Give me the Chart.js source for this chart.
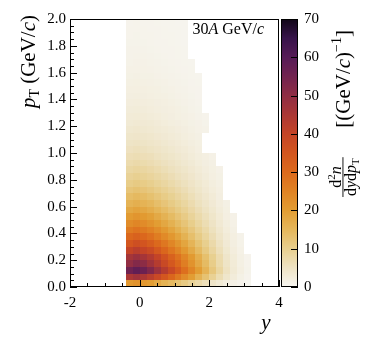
<!DOCTYPE html>
<html>
<head>
<meta charset="utf-8">
<script src="https://cdn.jsdelivr.net/npm/chart.js@4.4.1/dist/chart.umd.min.js"></script>
<style>
  html, body { margin: 0; padding: 0; background: #fff; }
  #wrap { position: relative; width: 374px; height: 349px; }
  canvas { position: absolute; top: 0; }
</style>
</head>
<body>
<div id="wrap">
  <canvas id="main" width="374" height="349" style="left:0"></canvas>
  <canvas id="cbar" width="93" height="349" style="left:281px"></canvas>
</div>
<script>
// bin edges (rapidity y and transverse momentum pT)
const rapidityEdges = [-0.4, -0.2, 0.0, 0.2, 0.4, 0.6, 0.8, 1.0, 1.2, 1.4, 1.6, 1.8, 2.0, 2.2, 2.4, 2.6, 2.8, 3.0, 3.2];
const ptEdges = [0.00, 0.05, 0.10, 0.15, 0.20, 0.25, 0.30, 0.35, 0.40, 0.45,
                 0.50, 0.55, 0.60, 0.65, 0.70, 0.75, 0.80, 0.85, 0.90, 0.95,
                 1.00, 1.05, 1.10, 1.15, 1.20, 1.25, 1.30, 1.35, 1.40, 1.45,
                 1.50, 1.55, 1.60, 1.65, 1.70, 1.75, 1.80, 1.85, 1.90, 1.95, 2.00];

// d2n/dydpT, one row per pT bin (bottom to top), one value per rapidity bin
const dndydpt = [
  [21, 22, 21, 20, 18, 16, 14.5, 12.8, 11, 9.2, 7.5, 5.9, 4.4, 3.1, 2, 1.2, 0.7, 0.3],
  [45, 47, 45, 42, 38.5, 35, 31, 27, 23.5, 20, 16, 12.7, 9.4, 6.6, 4.2, 2.6, 1.4, 0.7],
  [55.5, 58, 56, 52.5, 47.5, 43, 38.5, 34, 29, 24.5, 20, 15.7, 11.7, 8.2, 5.3, 3.2, 1.8, 0.9],
  [49.5, 52, 50.5, 47, 43, 38.7, 34.5, 30.4, 26, 22, 17.8, 14.2, 10.5, 7.3, 4.8, 2.9, 1.6, 0.8],
  [46, 48, 46, 43.5, 40, 36, 32, 28.4, 24.5, 20.6, 16.7, 13.2, 9.8, 6.9, 4.4, 2.7, 1.5, 0.7],
  [40, 42, 40, 38, 34.4, 31, 27.7, 24.4, 21, 17.6, 14.3, 11.3, 8.4, 5.9, 3.8, 2.3, 1.3],
  [35, 37, 35.5, 33.3, 30.3, 27.4, 24.4, 21.5, 18.5, 15.5, 12.6, 10, 7.4, 5.2, 3.3, 2, 1.1],
  [30.4, 32, 30.7, 28.8, 26.2, 23.7, 21.1, 18.6, 16, 13.4, 10.9, 8.6, 6.4, 4.5, 2.9, 1.8, 1],
  [26.6, 28, 26.9, 25.2, 23, 20.7, 18.5, 16.2, 14, 11.8, 9.5, 7.6, 5.6, 3.9, 2.5, 1.5],
  [23.3, 24.5, 23.5, 22, 20, 18.1, 16.2, 14.2, 12.3, 10.3, 8.3, 6.6, 4.9, 3.4, 2.2, 1.3],
  [20.4, 21.5, 20.6, 19.4, 17.6, 15.9, 14.2, 12.5, 10.8, 9, 7.3, 5.8, 4.3, 3, 1.9, 1.2],
  [17.9, 18.8, 18, 16.9, 15.4, 13.9, 12.4, 10.9, 9.4, 7.9, 6.4, 5.1, 3.8, 2.6, 1.7],
  [15.7, 16.5, 15.8, 14.9, 13.5, 12.2, 10.9, 9.6, 8.3, 6.9, 5.6, 4.5, 3.3, 2.3, 1.5],
  [13.8, 14.5, 13.9, 13, 11.9, 10.7, 9.6, 8.4, 7.3, 6.1, 4.9, 3.9, 2.9, 2],
  [12.1, 12.7, 12.2, 11.4, 10.4, 9.4, 8.4, 7.4, 6.4, 5.3, 4.3, 3.4, 2.5, 1.8],
  [10.5, 11.1, 10.7, 10, 9.1, 8.2, 7.3, 6.4, 5.6, 4.7, 3.8, 3, 2.2, 1.6],
  [9.2, 9.7, 9.3, 8.7, 8, 7.2, 6.4, 5.6, 4.9, 4.1, 3.3, 2.6, 1.9, 1.4],
  [8.1, 8.5, 8.2, 7.7, 7, 6.3, 5.6, 4.9, 4.3, 3.6, 2.9, 2.3, 1.7, 1.2],
  [7, 7.4, 7.1, 6.7, 6.1, 5.5, 4.9, 4.3, 3.7, 3.1, 2.5, 2, 1.5],
  [6.2, 6.5, 6.2, 5.9, 5.3, 4.8, 4.3, 3.8, 3.3, 2.7, 2.2, 1.8, 1.3],
  [5.4, 5.7, 5.5, 5.1, 4.7, 4.2, 3.8, 3.3, 2.9, 2.4, 1.9],
  [4.8, 5, 4.8, 4.5, 4.1, 3.7, 3.3, 2.9, 2.5, 2.1, 1.7],
  [4.2, 4.4, 4.2, 4, 3.6, 3.3, 2.9, 2.6, 2.2, 1.8, 1.5],
  [3.7, 3.9, 3.7, 3.5, 3.2, 2.9, 2.6, 2.3, 2, 1.6, 1.3, 1.1],
  [3.2, 3.4, 3.3, 3.1, 2.8, 2.5, 2.2, 2, 1.7, 1.4, 1.2, 0.9],
  [2.9, 3, 2.9, 2.7, 2.5, 2.2, 2, 1.7, 1.5, 1.3, 1, 0.8],
  [2.6, 2.7, 2.6, 2.4, 2.2, 2, 1.8, 1.6, 1.4, 1.1, 0.9],
  [2.3, 2.4, 2.3, 2.2, 2, 1.8, 1.6, 1.4, 1.2, 1, 0.8],
  [2, 2.1, 2, 1.9, 1.7, 1.6, 1.4, 1.2, 1.1, 0.9, 0.7],
  [1.8, 1.9, 1.8, 1.7, 1.6, 1.4, 1.3, 1.1, 1, 0.8, 0.7],
  [1.6, 1.7, 1.6, 1.5, 1.4, 1.3, 1.1, 1, 0.9, 0.7, 0.6],
  [1.4, 1.5, 1.4, 1.4, 1.2, 1.1, 1, 0.9, 0.8, 0.6, 0.5],
  [1.3, 1.35, 1.3, 1.2, 1.1, 1, 0.9, 0.8, 0.7, 0.6],
  [1.1, 1.2, 1.2, 1.1, 1, 0.9, 0.8, 0.7, 0.6, 0.5],
  [1, 1.1, 1.1, 1, 0.9, 0.8, 0.7, 0.6, 0.55],
  [1, 1, 1, 0.9, 0.8, 0.7, 0.7, 0.6, 0.5],
  [0.9, 0.9, 0.9, 0.8, 0.7, 0.7, 0.6, 0.5, 0.45],
  [0.8, 0.85, 0.8, 0.8, 0.7, 0.6, 0.6, 0.5, 0.4],
  [0.8, 0.8, 0.8, 0.7, 0.7, 0.6, 0.5, 0.5, 0.4],
  [0.7, 0.75, 0.7, 0.7, 0.6, 0.55, 0.5, 0.45, 0.4]
];

// tick labels
const xTicks = [-2, 0, 2, 4];
const yTicks = [0, 0.2, 0.4, 0.6, 0.8, 1.0, 1.2, 1.4, 1.6, 1.8, 2.0];
const cbTicks = [0, 10, 20, 30, 40, 50, 60, 70];

// colour map (value -> colour), white-yellow-orange-red-purple-black
const cmapStops = [
  [0, '#f7f6f2'], [5, '#eee3c4'], [10, '#e8cf8e'], [15, '#e5b75b'],
  [20, '#e29d33'], [25, '#e08324'], [30, '#dc6a1d'], [35, '#d3561f'],
  [40, '#c44427'], [45, '#ab3735'], [50, '#8f2d44'], [55, '#722350'],
  [60, '#561b57'], [65, '#37134a'], [70, '#100616']
];

const SERIF = '"Liberation Serif", "DejaVu Serif", serif';

function hexToRgb(h) {
  return [parseInt(h.slice(1, 3), 16), parseInt(h.slice(3, 5), 16), parseInt(h.slice(5, 7), 16)];
}

function colorFor(v) {
  v = Math.max(0, Math.min(70, v));
  for (let i = 1; i < cmapStops.length; i++) {
    if (v <= cmapStops[i][0]) {
      const [v0, c0] = cmapStops[i - 1];
      const [v1, c1] = cmapStops[i];
      const t = (v - v0) / (v1 - v0);
      const a = hexToRgb(c0), b = hexToRgb(c1);
      const rgb = a.map((ch, k) => Math.round(ch + (b[k] - ch) * t));
      return 'rgb(' + rgb.join(',') + ')';
    }
  }
  return cmapStops[cmapStops.length - 1][1];
}

// draw a list of text pieces with different fonts one after the other
function runsWidth(ctx, runs) {
  let w = 0;
  runs.forEach(r => { ctx.font = r.font; w += ctx.measureText(r.t).width; });
  return w;
}
function drawRuns(ctx, runs, x, y) {
  runs.forEach(r => {
    ctx.font = r.font;
    ctx.fillText(r.t, x, y + (r.dy || 0));
    x += ctx.measureText(r.t).width;
  });
}

// heatmap cells
const heatmapPlugin = {
  id: 'heatmap',
  beforeDatasetsDraw(chart) {
    const { ctx, chartArea, scales: { x, y } } = chart;
    ctx.save();
    ctx.beginPath();
    ctx.rect(chartArea.left, chartArea.top, chartArea.width, chartArea.height);
    ctx.clip();
    dndydpt.forEach((row, r) => {
      const top = Math.round(y.getPixelForValue(ptEdges[r + 1]));
      const bottom = Math.round(y.getPixelForValue(ptEdges[r]));
      row.forEach((v, c) => {
        const left = Math.round(x.getPixelForValue(rapidityEdges[c]));
        const right = Math.round(x.getPixelForValue(rapidityEdges[c + 1]));
        ctx.fillStyle = colorFor(v);
        ctx.fillRect(left, top, right - left, bottom - top);
      });
    });
    ctx.restore();
  }
};

// frame, inward ticks and labels of the main panel
const framePlugin = {
  id: 'frame',
  afterDraw(chart) {
    const { ctx, chartArea: a, scales: { x, y } } = chart;
    ctx.save();
    ctx.strokeStyle = '#000';
    ctx.lineWidth = 1;
    ctx.strokeRect(a.left + 0.5, a.top + 0.5, a.width - 1, a.height - 1);

    ctx.beginPath();
    for (let v = -2; v <= 4.001; v += 0.5) {
      const px = Math.round(x.getPixelForValue(v)) + 0.5;
      const len = xTicks.includes(Math.round(v * 10) / 10) ? 7 : 4;
      ctx.moveTo(px, a.bottom);
      ctx.lineTo(px, a.bottom - len);
    }
    for (let i = 0; i <= 40; i++) {
      const v = i * 0.05;
      const py = Math.round(y.getPixelForValue(v)) + 0.5;
      const len = i % 4 === 0 ? 7 : 4;
      ctx.moveTo(a.left, py);
      ctx.lineTo(a.left + len, py);
    }
    ctx.stroke();

    ctx.fillStyle = '#000';
    ctx.textBaseline = 'alphabetic';

    // energy label
    const eRuns = [
      { t: '30', font: '16px ' + SERIF },
      { t: 'A', font: 'italic 16px ' + SERIF },
      { t: ' GeV/', font: '16px ' + SERIF },
      { t: 'c', font: 'italic 16px ' + SERIF }
    ];
    drawRuns(ctx, eRuns, 264 - runsWidth(ctx, eRuns), 34);

    // x title
    ctx.font = 'italic 21px ' + SERIF;
    ctx.textAlign = 'center';
    ctx.fillText('y', 266, 329);
    ctx.textAlign = 'left';

    // y title, rotated, aligned to the top
    const yRuns = [
      { t: 'p', font: 'italic 21px ' + SERIF },
      { t: 'T', font: '14px ' + SERIF, dy: 4 },
      { t: ' (GeV/', font: '21px ' + SERIF },
      { t: 'c', font: 'italic 21px ' + SERIF },
      { t: ')', font: '21px ' + SERIF }
    ];
    const w = runsWidth(ctx, yRuns);
    ctx.translate(35, 15 + w);
    ctx.rotate(-Math.PI / 2);
    drawRuns(ctx, yRuns, 0, 0);
    ctx.restore();
  }
};

const tickFont = { family: SERIF, size: 15 };

new Chart(document.getElementById('main'), {
  type: 'scatter',
  data: { datasets: [{ data: [] }] },
  options: {
    responsive: false,
    animation: false,
    devicePixelRatio: 1,
    layout: { padding: { left: 0, top: 19, right: 95, bottom: 0 } },
    plugins: { legend: { display: false }, tooltip: { enabled: false } },
    scales: {
      x: {
        type: 'linear', min: -2, max: 4,
        afterBuildTicks: s => { s.ticks = xTicks.map(v => ({ value: v })); },
        afterFit: s => { s.height = 62; },
        grid: { display: false, drawTicks: false },
        border: { display: false },
        ticks: { color: '#000', font: tickFont, padding: 7, maxRotation: 0, autoSkip: false,
                 callback: v => String(v) }
      },
      y: {
        type: 'linear', min: 0, max: 2,
        afterBuildTicks: s => { s.ticks = yTicks.map(v => ({ value: v })); },
        afterFit: s => { s.width = 70; },
        grid: { display: false, drawTicks: false },
        border: { display: false },
        ticks: { color: '#000', font: tickFont, padding: 4, autoSkip: false,
                 callback: v => Number(v).toFixed(1) }
      }
    }
  },
  plugins: [heatmapPlugin, framePlugin]
});

// colour bar
const colorbarPlugin = {
  id: 'colorbar',
  beforeDatasetsDraw(chart) {
    const { ctx, chartArea: a, scales: { y } } = chart;
    const g = ctx.createLinearGradient(0, y.getPixelForValue(0), 0, y.getPixelForValue(70));
    cmapStops.forEach(([v, c]) => g.addColorStop(v / 70, c));
    ctx.save();
    ctx.fillStyle = g;
    ctx.fillRect(a.left, a.top, a.width, a.height);
    ctx.restore();
  },
  afterDraw(chart) {
    const { ctx, chartArea: a, scales: { y } } = chart;
    ctx.save();
    ctx.strokeStyle = '#000';
    ctx.lineWidth = 1;
    ctx.strokeRect(a.left + 0.5, a.top + 0.5, a.width - 1, a.height - 1);
    ctx.beginPath();
    cbTicks.forEach(v => {
      const py = Math.round(y.getPixelForValue(v)) + 0.5;
      ctx.moveTo(a.right, py);
      ctx.lineTo(a.right - 7, py);
    });
    ctx.stroke();

    // colour bar title: d2n/(dy dpT) [(GeV/c)^-1], rotated
    ctx.fillStyle = '#000';
    ctx.translate(64, 197);
    ctx.rotate(-Math.PI / 2);
    const num = [
      { t: 'd', font: '16px ' + SERIF },
      { t: '2', font: '11px ' + SERIF, dy: -6 },
      { t: 'n', font: 'italic 16px ' + SERIF }
    ];
    const den = [
      { t: 'd', font: '16px ' + SERIF },
      { t: 'y', font: 'italic 16px ' + SERIF },
      { t: 'd', font: '16px ' + SERIF },
      { t: 'p', font: 'italic 16px ' + SERIF },
      { t: 'T', font: '11px ' + SERIF, dy: 3 }
    ];
    const wn = runsWidth(ctx, num), wd = runsWidth(ctx, den);
    const wf = Math.max(wn, wd) + 2;
    drawRuns(ctx, num, (wf - wn) / 2, -4.5);
    ctx.fillRect(0, -2.5, wf, 0.9);
    drawRuns(ctx, den, (wf - wd) / 2, 11);
    const unit = [
      { t: '[(GeV/', font: '21px ' + SERIF },
      { t: 'c', font: 'italic 21px ' + SERIF },
      { t: ')', font: '21px ' + SERIF },
      { t: '\u22121', font: '14px ' + SERIF, dy: -9 },
      { t: ']', font: '21px ' + SERIF }
    ];
    drawRuns(ctx, unit, 167 - runsWidth(ctx, unit), 5);
    ctx.restore();
  }
};

new Chart(document.getElementById('cbar'), {
  type: 'scatter',
  data: { datasets: [{ data: [] }] },
  options: {
    responsive: false,
    animation: false,
    devicePixelRatio: 1,
    layout: { padding: { left: 0, top: 19, right: 0, bottom: 62 } },
    plugins: { legend: { display: false }, tooltip: { enabled: false } },
    scales: {
      x: { type: 'linear', display: false, min: 0, max: 1 },
      y: {
        type: 'linear', position: 'right', min: 0, max: 70,
        afterBuildTicks: s => { s.ticks = cbTicks.map(v => ({ value: v })); },
        afterFit: s => { s.width = 76; },
        grid: { display: false, drawTicks: false },
        border: { display: false },
        ticks: { color: '#000', font: tickFont, padding: 6, autoSkip: false }
      }
    }
  },
  plugins: [colorbarPlugin]
});
</script>
</body>
</html>
